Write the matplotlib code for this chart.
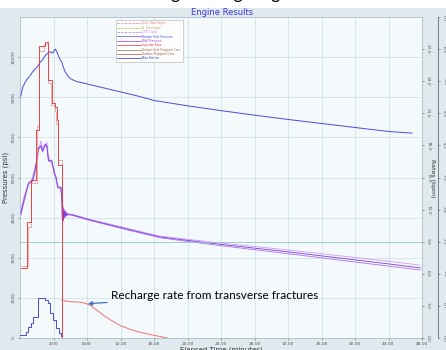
import matplotlib
matplotlib.use("Agg")
import matplotlib.pyplot as plt
from matplotlib.lines import Line2D
from matplotlib.patches import Rectangle

# --- series (time in minutes) ---
well_time = [0.1, 0.3, 0.6, 0.9, 1.2, 1.5, 1.8, 2.1, 2.4, 2.7, 3.0, 3.3, 3.6, 3.9,
             4.2, 4.4, 4.6, 4.8, 5.0, 5.2, 5.4, 5.7, 6.0, 6.5, 7.0, 8.0, 9.0, 10.0,
             12.0, 14.0, 16.0, 18.0, 20.0, 24.0, 28.0, 32.0, 36.0, 40.0, 44.0, 46.8]
well_psi = [9050, 9350, 9550, 9700, 9800, 9950, 10050, 10150, 10300, 10400, 10550,
            10650, 10700, 10650, 10800, 10700, 10550, 10400, 10300, 10100, 9950, 9800,
            9700, 9620, 9570, 9500, 9420, 9350, 9200, 9050, 8880, 8780, 8680, 8500,
            8330, 8170, 8020, 7870, 7720, 7660]

bhp_time = [0.1, 0.5, 1.0, 1.5, 1.8, 2.0, 2.2, 2.5, 2.7, 3.0, 3.2, 3.4, 3.8, 4.1,
            4.3, 4.5, 4.9, 5.0, 5.06, 5.12, 5.2, 5.28, 5.36, 5.45, 5.55, 5.7, 6.3,
            8.4, 12.3, 16.7, 20.0, 24.0, 28.0, 32.0, 36.0, 40.0, 44.0, 47.8]
bhp_psi = [4670, 5200, 5800, 5900, 6300, 6650, 7100, 7200, 7000, 7250, 7200, 6650,
           6600, 6170, 6000, 5650, 5600, 5150, 4300, 4950, 4400, 4800, 4500, 4720,
           4560, 4650, 4600, 4410, 4110, 3780, 3650, 3500, 3360, 3220, 3070, 2920,
           2770, 2620]
ctp_psi = [4750, 5300, 5700, 6000, 6400, 6550, 7000, 7350, 7100, 7150, 7300, 6800,
           6500, 6300, 5900, 5750, 5500, 5250, 4900, 4350, 4850, 4500, 4750, 4550,
           4700, 4600, 4620, 4430, 4140, 3810, 3690, 3550, 3420, 3290, 3150, 3010,
           2870, 2720]
bh2_psi = [4600, 5100, 5750, 5850, 6200, 6700, 7050, 7150, 6950, 7200, 7150, 6600,
           6650, 6100, 6050, 5600, 5650, 5100, 4500, 4700, 4550, 4650, 4580, 4620,
           4590, 4610, 4580, 4390, 4080, 3750, 3610, 3450, 3300, 3150, 3000, 2840,
           2690, 2540]

friction_time = [0.0, 0.5, 0.7, 1.0, 1.3, 1.6, 2.1, 3.0, 3.3, 3.6, 3.9, 4.3, 4.6, 4.9, 5.0, 17.6]
friction_psi = [110, 110, 220, 410, 560, 790, 1500, 1420, 1310, 930, 670, 380, 190, 60, 15, 15]

rate_time = [0.1, 0.84, 1.3, 1.9, 2.3, 3.0, 3.35, 3.8, 4.2, 4.4, 4.55, 5.0, 5.05]
rate_bpm = [6.5, 10.8, 14.8, 19.4, 27.3, 27.7, 24.1, 22.0, 21.6, 20.4, 16.2, 0.0, 0.0]
dirty_time = [0.1, 0.9, 1.35, 2.0, 2.25, 2.9, 3.3, 3.75, 4.15, 4.35, 4.5, 5.0, 5.05]
dirty_bpm = [6.7, 10.4, 14.5, 19.8, 26.8, 27.5, 23.8, 21.8, 21.2, 20.0, 16.6, 0.0, 0.0]

recharge_time = [5.0, 5.5, 6.0, 6.5, 7.0, 7.5, 8.0, 8.5, 9.0, 10.0, 11.0, 12.0, 13.0,
                 14.0, 15.0, 16.0, 17.0, 17.6]
recharge_bpm = [3.55, 3.45, 3.40, 3.38, 3.36, 3.30, 3.18, 3.0, 2.7, 2.1, 1.6, 1.15,
                0.85, 0.6, 0.42, 0.25, 0.1, 0.0]

x_ticks = [4, 8, 12, 16, 20, 24, 28, 32, 36, 40, 44, 48]
psi_ticks = [0, 1500, 3000, 4500, 6000, 7500, 9000, 10500]
rate_ticks = [0, 3, 6, 9, 12, 15, 18, 21, 24, 27]
conc_ticks = [0.0, 0.7, 1.4, 2.1, 2.8, 3.5, 4.2, 4.9, 5.6, 6.3, 7.0]

legend_labels = ["Dirty Rate (bpm)", "N. Sand (ppa)", "CTP 1 (psi)", "Bottom Hole Pressure",
                 "Well Pressure", "Injection Rate", "Bottom Hole Proppant Conc",
                 "Surface Proppant Conc", "Max Friction"]
legend_colors = ["#f08080", "#b8b840", "#c070f0", "#5050e0", "#9040e0", "#e83030",
                 "#a07040", "#b05030", "#3030c0"]
legend_styles = ["--", "--", "--", "-", "-", "-", "-", "-", "-"]

W, H = 446, 350
BG = "#dfe9ee"
PLOT_BG = "#f4f9fb"
GRID = "#c9dde5"
TICK = "#555555"

fig = plt.figure(figsize=(W / 100, H / 100), dpi=100, facecolor="white")
fig.patches.append(Rectangle((0, 0), 1, 1 - 8 / H, transform=fig.transFigure,
                             facecolor=BG, edgecolor="none", zorder=-10))

# slide heading cut off at the top edge
fig.text(47 / W, 1 + 1.5 / H, "Pressure Recharge during Stage Shut-in",
         fontsize=12.5, family="Lato", color="black", ha="left", va="baseline")

fig.text(222 / W, 1 - 12.5 / H, "Engine Results", fontsize=6, color="#3838d8",
         ha="center", va="center", family="DejaVu Sans")

ax = fig.add_axes([20 / W, 12 / H, 402 / W, 321 / H])
ax.set_facecolor(PLOT_BG)
ax.set_xlim(0, 48)
ax.set_ylim(0, 12000)
ax.set_xticks(x_ticks)
ax.set_xticklabels([f"{t}.00" for t in x_ticks])
ax.set_yticks(psi_ticks)
ax.set_yticklabels([str(v) for v in psi_ticks], rotation=90, va="center")
ax.tick_params(axis="both", labelsize=3.2, colors=TICK, length=1.5, width=0.4, pad=1.5)
ax.grid(True, color=GRID, linewidth=0.5)
ax.set_axisbelow(True)
for s in ax.spines.values():
    s.set_color("#9fb4be")
    s.set_linewidth(0.5)
ax.set_ylabel("Pressures (psi)", fontsize=5, color="#333333", labelpad=2)
ax.set_xlabel("Elapsed Time (minutes)", fontsize=5, color="#333333", labelpad=0.5)

ax.plot(well_time, well_psi, color="#4a4ad8", lw=0.7, zorder=3)
ax.plot(bhp_time, bh2_psi, color="#b070f0", lw=0.6, zorder=3)
ax.plot(bhp_time, ctp_psi, color="#c080ff", lw=0.6, ls="--", dashes=(2, 0.6), zorder=3)
ax.plot(bhp_time, bhp_psi, color="#7c3cd8", lw=0.6, zorder=3)
ax.plot(friction_time, friction_psi, color="#4a4ad8", lw=0.7, drawstyle="steps-post", zorder=3)

# rates on the inner right axis
ax2 = ax.twinx()
ax2.set_ylim(0, 30)
ax2.set_yticks(rate_ticks)
ax2.set_yticklabels([f"{v:.1f}" for v in rate_ticks], rotation=-90, va="center")
ax2.tick_params(axis="y", labelsize=3.2, colors=TICK, length=1.5, width=0.4, pad=1.5)
ax2.axhline(9, color="#8fc7c4", lw=0.6, zorder=1)
ax2.plot(dirty_time, dirty_bpm, color="#f08080", lw=0.6, ls="--", dashes=(2, 0.8),
         drawstyle="steps-post", zorder=3)
ax2.plot(rate_time, rate_bpm, color="#e83030", lw=0.6, drawstyle="steps-post", zorder=3)
ax2.plot(recharge_time, recharge_bpm, color="#f07070", lw=0.7, zorder=3)
for s in ax2.spines.values():
    s.set_visible(False)

ax2.annotate("Recharge rate from transverse fractures", xy=(8.1, 3.2), xytext=(10.9, 4.0),
             fontsize=8.5, family="Lato", color="black", ha="left", va="center",
             arrowprops=dict(arrowstyle="-|>", color="#4472c4", lw=0.9,
                             mutation_scale=6, shrinkA=1, shrinkB=0))

# proppant concentration on the outer right axis
ax3 = ax.twinx()
ax3.spines["right"].set_position(("axes", 1 + 16 / 402))
ax3.spines["right"].set_color("#555555")
ax3.spines["right"].set_linewidth(0.5)
for k in ("left", "top", "bottom"):
    ax3.spines[k].set_visible(False)
ax3.set_ylim(0, 7)
ax3.set_yticks(conc_ticks)
ax3.set_yticklabels([f"{v:.1f}" for v in conc_ticks], rotation=-90, va="center")
ax3.tick_params(axis="y", labelsize=3.2, colors=TICK, length=1.5, width=0.4, pad=1.5)
fig.text(433 / W, 1 - 178 / H, "Rates (bpm)", fontsize=4.5, color="#333333",
         rotation=-90, ha="center", va="center")

handles = [Line2D([0], [0], color=c, ls=ls, lw=0.5) for c, ls in zip(legend_colors, legend_styles)]
leg = ax3.legend(handles, legend_labels, loc="upper left",
                 bbox_to_anchor=(96 / 402, 1 - 3 / 321), fontsize=2.1, frameon=True,
                 fancybox=False, handlelength=8, handletextpad=0.5, labelspacing=0.12,
                 borderpad=0.5, borderaxespad=0)
leg.get_frame().set_edgecolor("#b0b0b0")
leg.get_frame().set_linewidth(0.5)
leg.get_frame().set_facecolor("white")
for txt, c in zip(leg.get_texts(), legend_colors):
    txt.set_color(c)

fig.savefig("out.png", dpi=100)
